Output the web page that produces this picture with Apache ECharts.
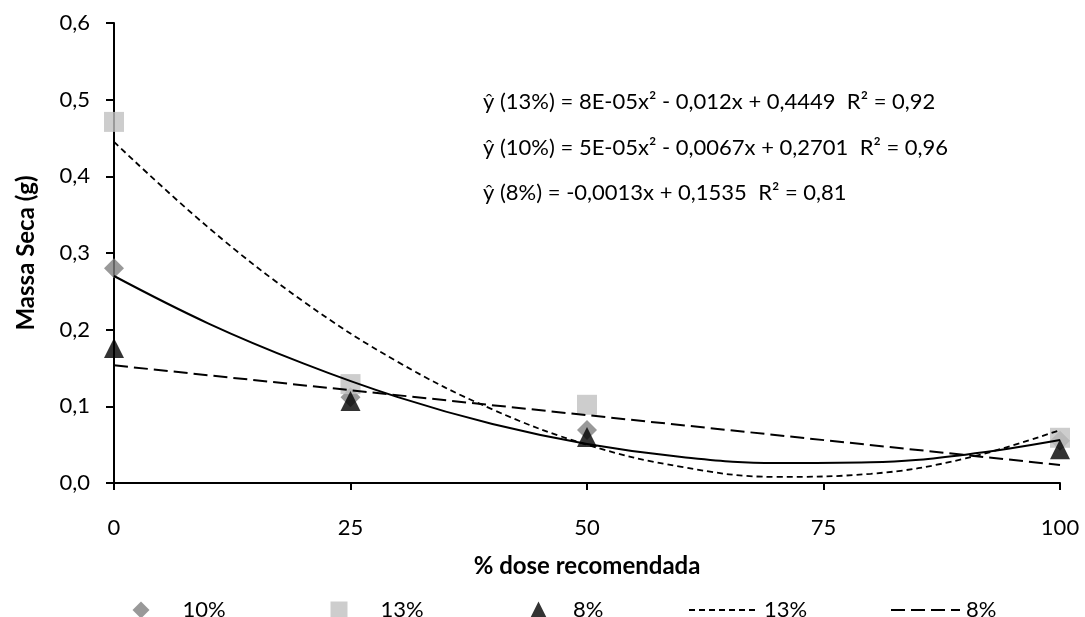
<!DOCTYPE html>
<html><head><meta charset="utf-8">
<script src="https://cdn.jsdelivr.net/npm/echarts@6/dist/echarts.min.js"></script>
<style>html,body{margin:0;padding:0;background:#fff}#c{width:1085px;height:617px}</style>
</head><body><div id="c"></div>
<script>
// ---- data ----
const doses = [0, 25, 50, 100];
const massa10 = [0.280, 0.112, 0.069, 0.055];
const massa13 = [0.471, 0.129, 0.102, 0.059];
const massa8  = [0.176, 0.107, 0.060, 0.044];
const trendX  = [0, 10, 20, 30, 40, 50, 60, 70, 80, 90, 100];
const trend13 = [0.445, 0.333, 0.237, 0.158, 0.096, 0.050, 0.021, 0.008, 0.012, 0.032, 0.069];
const trend10 = [0.270, 0.208, 0.156, 0.112, 0.077, 0.051, 0.034, 0.026, 0.027, 0.037, 0.056];
const trend8X = [0, 100];
const trend8  = [0.1535, 0.0235];
const xTickLabels = ['0', '25', '50', '75', '100'];
const yTickLabels = ['0,0', '0,1', '0,2', '0,3', '0,4', '0,5', '0,6'];
const equations = [
  'ŷ (13%) = 8E-05x² - 0,012x + 0,4449  R² = 0,92',
  'ŷ (10%) = 5E-05x² - 0,0067x + 0,2701  R² = 0,96',
  'ŷ (8%) = -0,0013x + 0,1535  R² = 0,81'
];

const FONT = 'Lato, "Open Sans", sans-serif';
const pairs = (xs, ys) => xs.map((x, i) => [x, ys[i]]);
const chart = echarts.init(document.getElementById('c'), null, {renderer: 'canvas'});

function legendAt(name, left, w, h, padLeft, hideSymbol) {
  const lg = {
    data: [name], left: left, top: 594, itemWidth: w, itemHeight: h,
    selectedMode: false,
    formatter: n => n.replace(' tend', ''),
    textStyle: {fontFamily: FONT, fontSize: 22, color: '#000', padding: [0, 0, 0, padLeft]}
  };
  if (hideSymbol) lg.itemStyle = {opacity: 0};
  return lg;
}

chart.setOption({
  backgroundColor: '#fff',
  animation: false,
  grid: {left: 114, right: 25, top: 23, bottom: 134, containLabel: false},
  xAxis: {
    type: 'value', min: 0, max: 100, interval: 25,
    name: '% dose recomendada', nameLocation: 'middle', nameGap: 71,
    nameTextStyle: {fontFamily: FONT, fontSize: 24, fontWeight: 'bold', color: '#000'},
    axisLine: {onZero: false, lineStyle: {color: '#000', width: 2}},
    axisTick: {show: true, length: 7, lineStyle: {color: '#000', width: 2}},
    axisLabel: {margin: 34, fontFamily: FONT, fontSize: 22, color: '#000',
      formatter: v => xTickLabels[Math.round(v / 25)]},
    splitLine: {show: false}
  },
  yAxis: {
    type: 'value', min: 0, max: 0.6, interval: 0.1,
    name: 'Massa Seca (g)', nameLocation: 'middle', nameGap: 76,
    nameTextStyle: {fontFamily: FONT, fontSize: 24, fontWeight: 'bold', color: '#000'},
    axisLine: {show: true, lineStyle: {color: '#000', width: 2}},
    axisTick: {show: true, length: 8, lineStyle: {color: '#000', width: 2}},
    axisLabel: {margin: 24, fontFamily: FONT, fontSize: 22, color: '#000',
      formatter: v => yTickLabels[Math.round(v * 10)]},
    splitLine: {show: false}
  },
  legend: [
    legendAt('10%', 127.5, 17, 17, 28, false),
    legendAt('13%', 325.5, 17, 17, 28, false),
    legendAt('8%', 525, 17, 17, 21, false),
    legendAt('13% tend', 683, 66, 14, 4, true),
    legendAt('8% tend', 885, 69, 14, 1, true)
  ],
  graphic: equations.map((t, i) => ({
    type: 'text', left: 483, top: [91, 137, 182][i],
    style: {text: t, fontFamily: FONT, fontSize: 22, fill: '#000'}
  })),
  series: [
    {name: '10%', type: 'scatter', symbol: 'diamond', symbolSize: 20, z: 2,
      itemStyle: {color: '#808080'}, data: pairs(doses, massa10)},
    {name: '13%', type: 'scatter', symbol: 'rect', symbolSize: 20, z: 2,
      itemStyle: {color: '#C0C0C0'}, data: pairs(doses, massa13)},
    {name: '8%', type: 'scatter', symbol: 'triangle', symbolSize: 20, z: 2,
      itemStyle: {color: '#000'}, data: pairs(doses, massa8)},
    {name: '13% tend', type: 'line', smooth: 0.4, symbol: 'none', z: 3,
      lineStyle: {color: '#000', width: 1.8, type: [6, 4]}, itemStyle: {color: '#000'},
      data: pairs(trendX, trend13)},
    {name: '8% tend', type: 'line', symbol: 'none', z: 3,
      lineStyle: {color: '#000', width: 2, type: [14, 6]}, itemStyle: {color: '#000'},
      data: pairs(trend8X, trend8)},
    {name: '10% tend', type: 'line', smooth: 0.4, symbol: 'none', z: 3,
      lineStyle: {color: '#000', width: 2, type: 'solid'}, itemStyle: {color: '#000'},
      data: pairs(trendX, trend10)}
  ]
});
</script></body></html>
